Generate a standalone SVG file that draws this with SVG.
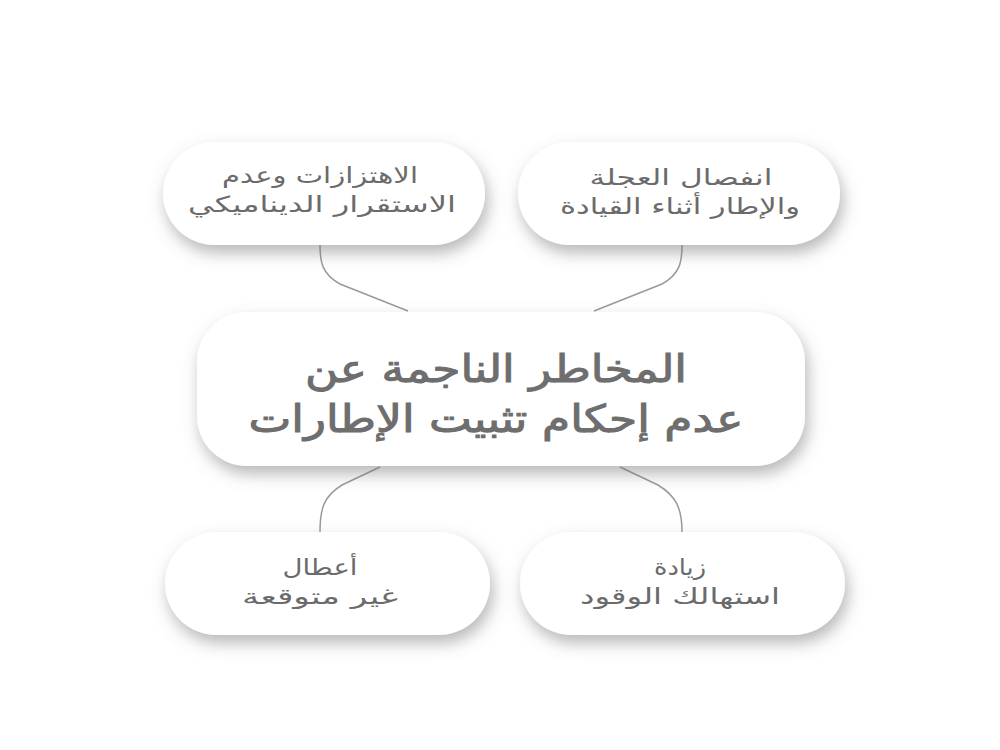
<svg xmlns="http://www.w3.org/2000/svg" width="1000" height="750" viewBox="0 0 1000 750">
<defs>
<filter id="sh" x="-20%" y="-30%" width="140%" height="170%">
<feDropShadow dx="3" dy="8" stdDeviation="8" flood-color="#6f6f6f" flood-opacity="0.5"/>
</filter>
<style>
.pill{fill:#ffffff;filter:url(#sh);}
.t{font-family:"DejaVu Sans","Noto Sans Arabic",sans-serif;fill:#6b6b6b;text-anchor:middle;direction:rtl;}
.s{font-size:22px;}
.b{font-size:38px;fill:#6e6e6e;stroke:#6e6e6e;stroke-width:1;}
.c{fill:none;stroke:#9a9a9a;stroke-width:1.5;}
</style>
</defs>
<rect width="1000" height="750" fill="#ffffff"/>
<g id="connectors">
<path class="c" d="M320 245 C320 262 322 274 340 284 L408 311"/>
<path class="c" d="M682 245 C682 262 680 274 662 284 L594 311"/>
<path class="c" d="M380 467 L342 485 C324 496 320 508 320 532"/>
<path class="c" d="M620 467 L658 485 C676 496 682 508 682 532"/>
</g>
<g id="node-top-left">
<rect class="pill" x="163" y="142" width="322" height="103" rx="51.5"/>
<text class="t s" x="320" y="183" textLength="196" lengthAdjust="spacingAndGlyphs">الاهتزازات وعدم</text>
<text class="t s" x="322" y="212" textLength="268" lengthAdjust="spacingAndGlyphs">الاستقرار الديناميكي</text>
</g>
<g id="node-top-right">
<rect class="pill" x="518" y="142" width="322" height="103" rx="51.5"/>
<text class="t s" x="681" y="185" textLength="183" lengthAdjust="spacingAndGlyphs">انفصال العجلة</text>
<text class="t s" x="680" y="214" textLength="240" lengthAdjust="spacingAndGlyphs">والإطار أثناء القيادة</text>
</g>
<g id="node-center">
<rect class="pill" x="197" y="312" width="608" height="154" rx="50"/>
<text class="t b" x="496" y="382" textLength="382" lengthAdjust="spacingAndGlyphs">المخاطر الناجمة عن</text>
<text class="t b" x="496" y="432" textLength="495" lengthAdjust="spacingAndGlyphs">عدم إحكام تثبيت الإطارات</text>
</g>
<g id="node-bottom-left">
<rect class="pill" x="165" y="532" width="325" height="103" rx="51.5"/>
<text class="t s" x="320" y="575" textLength="75" lengthAdjust="spacingAndGlyphs">أعطال</text>
<text class="t s" x="320" y="604" textLength="156" lengthAdjust="spacingAndGlyphs">غير متوقعة</text>
</g>
<g id="node-bottom-right">
<rect class="pill" x="520" y="532" width="325" height="103" rx="51.5"/>
<text class="t s" x="680" y="575" textLength="52" lengthAdjust="spacingAndGlyphs">زيادة</text>
<text class="t s" x="680" y="604" textLength="200" lengthAdjust="spacingAndGlyphs">استهالك الوقود</text>
</g>
</svg>
